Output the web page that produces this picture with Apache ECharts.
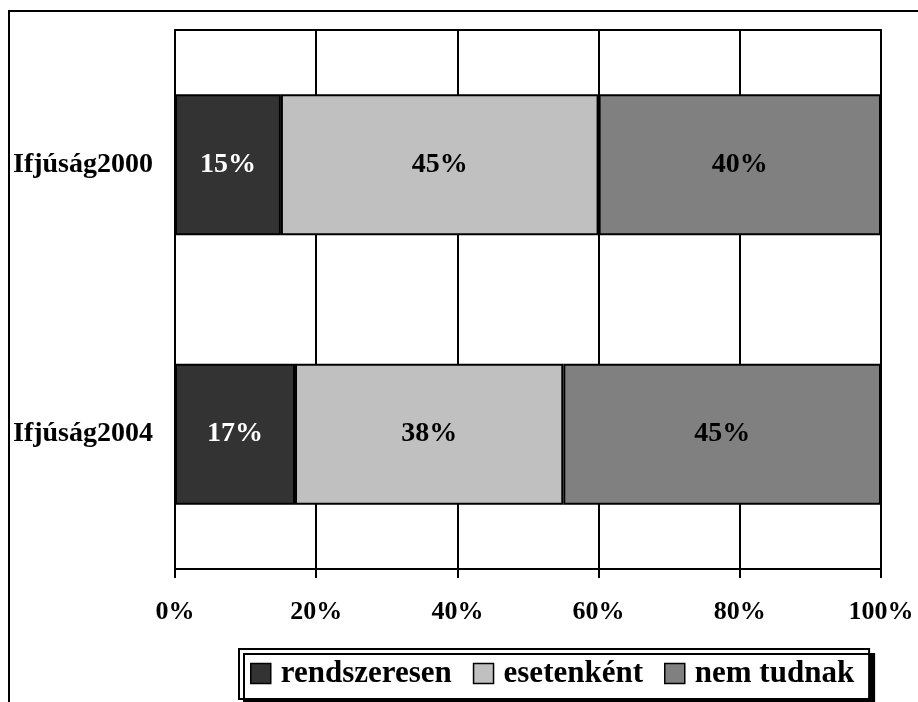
<!DOCTYPE html>
<html>
<head>
<meta charset="utf-8">
<script src="https://cdn.jsdelivr.net/npm/echarts@6/dist/echarts.min.js"></script>
<style>
  html, body { margin: 0; padding: 0; background: #fff; }
  #chart { width: 918px; height: 702px; }
</style>
</head>
<body>
<div id="chart"></div>
<script>
const categories = ['Ifjúság2000', 'Ifjúság2004'];
const seriesNames = ['rendszeresen', 'esetenként', 'nem tudnak'];
const rendszeresen = [15, 17];
const esetenkent = [45, 38];
const nemTudnak = [40, 45];
const seriesColors = ['#333333', '#c0c0c0', '#808080'];
const labelColors = ['#ffffff', '#000000', '#000000'];
const xTicks = [0, 20, 40, 60, 80, 100];

const FONT = '"Liberation Serif", "Times New Roman", serif';
const values = [rendszeresen, esetenkent, nemTudnak];

const chart = echarts.init(document.getElementById('chart'), null, { renderer: 'canvas' });

const option = {
  animation: false,
  backgroundColor: '#ffffff',
  graphic: [{
    type: 'rect',
    shape: { x: 9, y: 11, width: 1200, height: 1200 },
    style: { fill: 'none', stroke: '#000', lineWidth: 2 },
    silent: true
  }],
  grid: {
    left: 175, right: 37, top: 30, bottom: 133,
    show: true, borderColor: '#000', borderWidth: 2, backgroundColor: 'transparent'
  },
  legend: {
    data: seriesNames,
    left: 239, top: 649,
    orient: 'horizontal',
    itemWidth: 20, itemHeight: 20, itemGap: 21,
    padding: [9, 15, 10, 11],
    borderColor: '#000', borderWidth: 2,
    backgroundColor: '#fff',
    shadowColor: '#000', shadowBlur: 0, shadowOffsetX: 5, shadowOffsetY: 5,
    icon: 'rect',
    selectedMode: false,
    itemStyle: { borderColor: '#000', borderWidth: 1.5 },
    textStyle: { fontFamily: FONT, fontWeight: 'bold', fontSize: 31, color: '#000', padding: [0, 0, 0, 5] }
  },
  xAxis: {
    type: 'value',
    min: 0, max: 100, interval: 20,
    axisLine: { show: true, lineStyle: { color: '#000', width: 2 } },
    axisTick: { show: true, length: 9, inside: false, lineStyle: { color: '#000', width: 2 } },
    splitLine: { show: true, lineStyle: { color: '#000', width: 2 } },
    axisLabel: {
      margin: 30,
      fontFamily: FONT, fontWeight: 'bold', fontSize: 26, color: '#000',
      formatter: v => (xTicks.indexOf(v) >= 0 ? v + '%' : '')
    }
  },
  yAxis: {
    type: 'category',
    data: categories,
    inverse: true,
    axisLine: { show: true, lineStyle: { color: '#000', width: 2 } },
    axisTick: { show: false },
    splitLine: { show: false },
    axisLabel: {
      margin: 22,
      fontFamily: FONT, fontWeight: 'bold', fontSize: 28, color: '#000'
    }
  },
  series: seriesNames.map((name, i) => ({
    name: name,
    type: 'bar',
    stack: 'total',
    barWidth: 141,
    data: values[i],
    itemStyle: { color: seriesColors[i], borderColor: '#000', borderWidth: 2 },
    label: {
      show: true,
      position: 'inside',
      formatter: p => p.value + '%',
      fontFamily: FONT, fontWeight: 'bold', fontSize: 28, color: labelColors[i]
    }
  }))
};

chart.setOption(option);
</script>
</body>
</html>
